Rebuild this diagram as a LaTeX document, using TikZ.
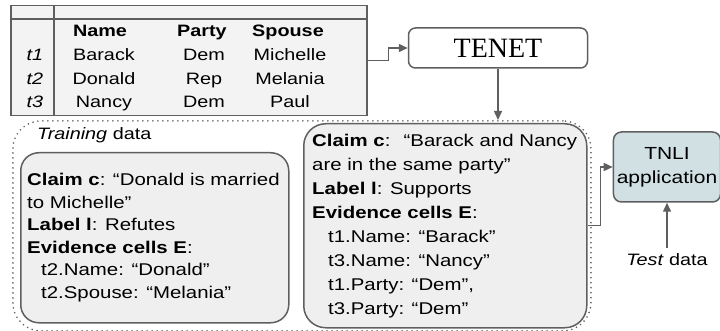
\documentclass[tikz,border=0pt]{standalone}
\usepackage{fontspec}
\setmainfont{Liberation Sans}[FakeStretch=1.2]
\newfontfamily\tenetfont{Liberation Serif}
\usetikzlibrary{arrows.meta}

\definecolor{linegray}{HTML}{5F5F5F}
\definecolor{boxgray}{HTML}{EFEFEF}
\definecolor{tablegray}{HTML}{F3F3F3}
\definecolor{tnlifill}{HTML}{D0E0E3}
\newcommand{\bodysize}{\fontsize{16.5}{22}\selectfont}

\begin{document}
\begin{tikzpicture}[x=1pt, y=-1pt,
        every node/.style={font=\bodysize},
        line/.style={draw=linegray, line width=1.5pt},
        arrow/.style={line, -{Triangle[length=9pt, width=8pt]}},
        cell/.style={anchor=base, inner sep=0pt},
        claimbox/.style={line, fill=boxgray, anchor=north west, inner sep=0pt},
        claimtext/.style={anchor=west, align=left, inner sep=0pt},
        trainbox/.style={draw=linegray, line width=1.8pt, line cap=round,
            dash pattern=on 0pt off 5pt, rounded corners=28pt,
            anchor=north west, inner sep=0pt}]
    \useasboundingbox (0,0) rectangle (720,331);

    % Table
    \node[line, fill=tablegray, minimum width=356, minimum height=110,
        anchor=north west, inner sep=0pt] (tbl) at (10,5) {};
    \draw[line] ([yshift=-14pt]tbl.north west) -- ([yshift=-14pt]tbl.north east);
    \draw[line] ([xshift=44pt]tbl.north west) -- ([xshift=44pt]tbl.south west);
    \foreach \col/\x in {Name/100, Party/202, Spouse/288}
        \node[cell, font=\bodysize\bfseries] (h\col) at (\x,37) {\col};
    \foreach \t/\name/\party/\spouse [count=\i] in
            {t1/Barack/Dem/Michelle, t2/Donald/Rep/Melania, t3/Nancy/Dem/Paul} {
        \pgfmathsetmacro\yb{37+23.6*\i}
        \node[cell, font=\bodysize\itshape] (\t) at (35,\yb) {\t};
        \node[cell] (\t-name) at (104,\yb) {\name};
        \node[cell] (\t-party) at (204,\yb) {\party};
        \node[cell] (\t-spouse) at (290,\yb) {\spouse};
    }

    % TENET
    \node[line, rounded corners=7pt, minimum width=179, minimum height=40,
        font=\tenetfont\fontsize{28}{30}\selectfont] (tenet) at (498,48) {TENET};
    \draw[arrow] (tbl.east) -- ++(21,0) |- (tenet.west);

    % Training data
    \node[trainbox, minimum width=578, minimum height=210] (train) at (12,120) {};
    \draw[arrow] (tenet.south) -- (tenet.south |- train.north);
    \node[anchor=west, inner sep=0pt] (trainlabel) at (37,135) {\textit{Training} data};

    \node[claimbox, rounded corners=18pt, minimum width=268, minimum height=170]
        (claimL) at (20,152) {};
    \node[claimtext, font=\fontsize{17}{22.5}\selectfont] (claimLtext)
        at ([xshift=7pt]claimL.west)
        {\textbf{Claim c}: “Donald is married\\
        to Michelle”\\
        \textbf{Label l}: Refutes\\
        \textbf{Evidence cells E}:\\
        \hspace*{14pt}t2.Name: “Donald”\\
        \hspace*{14pt}t2.Spouse: “Melania”};

    \node[claimbox, rounded corners=22pt, minimum width=283, minimum height=204]
        (claimR) at (303,123) {};
    \node[claimtext, font=\fontsize{17}{24}\selectfont] (claimRtext)
        at ([xshift=9pt]claimR.west)
        {\textbf{Claim c}:~ “Barack and Nancy\\
        are in the same party”\\
        \textbf{Label l}: Supports\\
        \textbf{Evidence cells E}:\\
        \hspace*{16pt}t1.Name: “Barack”\\
        \hspace*{16pt}t3.Name: “Nancy”\\
        \hspace*{16pt}t1.Party: “Dem”,\\
        \hspace*{16pt}t3.Party: “Dem”};

    % TNLI
    \node[line, fill=tnlifill, rounded corners=8pt, minimum width=104,
        minimum height=70, align=center, font=\fontsize{17.5}{24}\selectfont]
        (tnli) at (667,167) {TNLI\\application};
    \draw[arrow] (claimR.east) -- ++(13,0) |- (tnli.west);
    \node[inner sep=6pt] (test) at (667,260) {\textit{Test} data};
    \draw[arrow] (test.north) -- (tnli.south);
\end{tikzpicture}
\end{document}
